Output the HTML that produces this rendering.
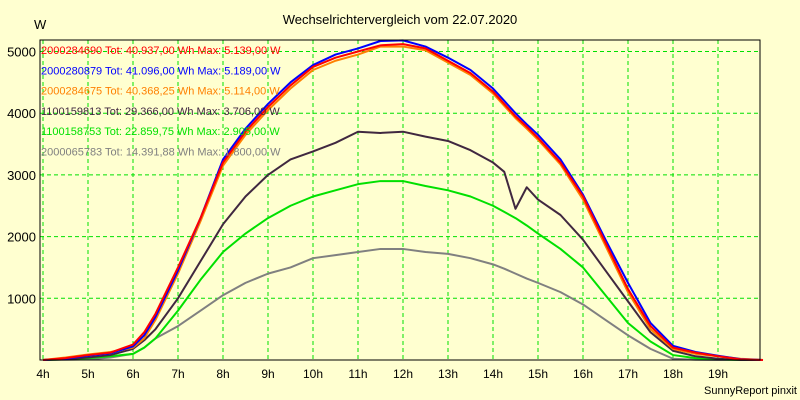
<!DOCTYPE html>
<html><head><meta charset="utf-8"><style>
body{margin:0;background:#ffffd0;}
svg{display:block;font-family:"Liberation Sans",Arial,sans-serif;}
</style></head><body>
<svg id="chart" width="800" height="400">
<rect x="0" y="0" width="800" height="400" fill="#ffffd0"/>
<text x="400" y="24" font-size="13" text-anchor="middle" fill="#000">Wechselrichtervergleich vom 22.07.2020</text>
<text x="34" y="29" font-size="13" fill="#000">W</text>
<text x="797" y="394" font-size="11" text-anchor="end" fill="#000">SunnyReport pinxit</text>
<g id="grid"></g><g id="series"></g><g id="axes"></g><g id="legend"></g>
</svg>
<script>
const times=[4,4.5,5,5.5,6,6.25,6.5,7,7.5,8,8.5,9,9.5,10,10.5,11,11.5,12,12.5,13,13.5,14,14.25,14.5,14.75,15,15.5,16,16.5,17,17.5,18,18.5,19,19.5,20];
const red   =[0,30,80,120,250,450,750,1500,2300,3200,3700,4100,4450,4750,4900,5000,5100,5120,5050,4850,4650,4350,4150,3950,3780,3600,3200,2650,1900,1150,550,200,120,60,10,0];
const blue  =[0,20,70,110,220,400,700,1450,2300,3250,3750,4150,4500,4780,4950,5050,5170,5180,5080,4900,4700,4400,4200,4000,3820,3650,3250,2680,1950,1250,600,230,130,70,15,0];
const orange=[0,40,90,130,200,350,650,1400,2250,3150,3650,4050,4400,4700,4850,4950,5080,5080,5020,4820,4620,4320,4120,3920,3750,3570,3170,2600,1850,1100,500,180,100,60,20,0];
const dark  =[0,10,40,80,180,320,500,1000,1600,2200,2650,3000,3250,3380,3520,3700,3680,3700,3620,3550,3400,3200,3050,2450,2800,2600,2350,1950,1450,950,450,150,60,20,0,0];
const green =[0,10,30,60,100,200,350,800,1300,1750,2050,2300,2500,2650,2750,2850,2900,2900,2820,2750,2650,2500,2400,2300,2180,2050,1800,1500,1050,600,300,80,30,10,0,0];
const gray  =[0,5,10,40,100,200,350,550,800,1050,1250,1400,1500,1650,1700,1750,1800,1800,1750,1720,1650,1550,1480,1400,1320,1250,1100,900,650,400,180,20,5,0,0,0];
const yTicks=[1000,2000,3000,4000,5000];
const xTicks=[4,5,6,7,8,9,10,11,12,13,14,15,16,17,18,19];
const legendLabels=["2000284690 Tot: 40.937,00 Wh Max: 5.139,00 W","2000280879 Tot: 41.096,00 Wh Max: 5.189,00 W","2000284675 Tot: 40.368,25 Wh Max: 5.114,00 W","1100159813 Tot: 29.366,00 Wh Max: 3.706,00 W","1100158753 Tot: 22.859,75 Wh Max: 2.905,00 W","2000065783 Tot: 14.391,88 Wh Max: 1.800,00 W"];
const NS="http://www.w3.org/2000/svg";
const X=t=>43+(t-4)*45, Y=v=>360-v*0.0617;
const L=40,R=760,T=40,B=360;
function mk(tag,attrs,parent){const e=document.createElementNS(NS,tag);for(const k in attrs)e.setAttribute(k,attrs[k]);parent.appendChild(e);return e;}
const grid=document.getElementById('grid'),axes=document.getElementById('axes'),ser=document.getElementById('series'),leg=document.getElementById('legend');
yTicks.forEach(v=>{
 const l=mk('line',{x1:L,x2:R,y1:Y(v),y2:Y(v),stroke:'#00e000','stroke-dasharray':'4,3'},grid);
 
 
 const t=mk('text',{x:36,y:Y(v)+5,'font-size':13,'text-anchor':'end',fill:'#000'},axes);
 t.textContent=v;
 
 
});
xTicks.forEach(h=>{
 const l=mk('line',{x1:X(h),x2:X(h),y1:T,y2:B,stroke:'#00e000','stroke-dasharray':'4,3'},grid);
 
 
 const t=mk('text',{x:X(h),y:378,'font-size':12,'text-anchor':'middle',fill:'#000'},axes);
 t.textContent=h+'h';
 
 
});
const frame=mk('rect',{x:L,y:T,width:R-L,height:B-T,fill:'none',stroke:'#000','stroke-width':1},axes);


const seriesList=[[gray,'#808080'],[green,'#00e000'],[dark,'#402840'],[orange,'#ff8000'],[blue,'#0000ff'],[red,'#ff0000']];
seriesList.forEach(([d,c],i)=>{
 const p=mk('polyline',{points:d.map((v,j)=>X(times[j])+','+Y(v)).join(' '),fill:'none',stroke:c,'stroke-width':2,'stroke-linejoin':'round'},ser);
 
 
});
const legColors=['#ff0000','#0000ff','#ff8000','#402840','#00e000','#808080'];
legendLabels.forEach((s,i)=>{
 const t=mk('text',{x:41,y:54+i*20.3,'font-size':11,fill:legColors[i]},leg);
 t.textContent=s;
 
 
});
</script>
</body></html>
